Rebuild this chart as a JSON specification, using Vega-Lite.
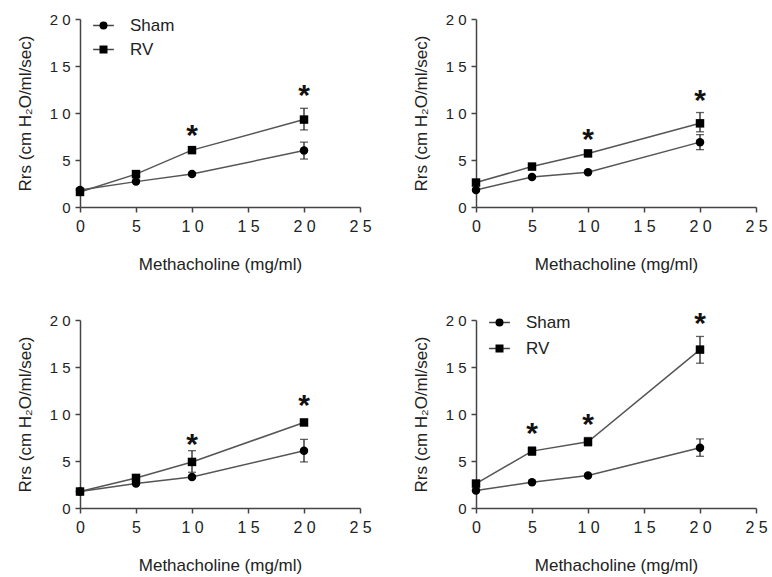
{
  "$schema": "https://vega.github.io/schema/vega-lite/v6.json",
  "usermeta": {"embedOptions": {"actions": false}},
  "padding": {"left": 16, "top": 12, "right": 0, "bottom": 4},
  "background": "white",
  "datasets": {
    "pts": [
      {"panel": 1, "group": "Sham", "dose": 0, "mean": 1.8, "lo": 1.8, "hi": 1.8},
      {"panel": 1, "group": "Sham", "dose": 5, "mean": 2.7, "lo": 2.7, "hi": 2.7},
      {"panel": 1, "group": "Sham", "dose": 10, "mean": 3.5, "lo": 3.5, "hi": 3.5},
      {"panel": 1, "group": "Sham", "dose": 20, "mean": 6.0, "lo": 5.1, "hi": 6.9},
      {"panel": 1, "group": "RV", "dose": 0, "mean": 1.6, "lo": 1.6, "hi": 1.6},
      {"panel": 1, "group": "RV", "dose": 5, "mean": 3.5, "lo": 3.5, "hi": 3.5},
      {"panel": 1, "group": "RV", "dose": 10, "mean": 6.05, "lo": 6.05, "hi": 6.05},
      {"panel": 1, "group": "RV", "dose": 20, "mean": 9.3, "lo": 8.2, "hi": 10.5},
      {"panel": 2, "group": "Sham", "dose": 0, "mean": 1.8, "lo": 1.8, "hi": 1.8},
      {"panel": 2, "group": "Sham", "dose": 5, "mean": 3.2, "lo": 3.2, "hi": 3.2},
      {"panel": 2, "group": "Sham", "dose": 10, "mean": 3.7, "lo": 3.7, "hi": 3.7},
      {"panel": 2, "group": "Sham", "dose": 20, "mean": 6.9, "lo": 6.1, "hi": 7.7},
      {"panel": 2, "group": "RV", "dose": 0, "mean": 2.6, "lo": 2.6, "hi": 2.6},
      {"panel": 2, "group": "RV", "dose": 5, "mean": 4.3, "lo": 4.3, "hi": 4.3},
      {"panel": 2, "group": "RV", "dose": 10, "mean": 5.7, "lo": 5.7, "hi": 5.7},
      {"panel": 2, "group": "RV", "dose": 20, "mean": 8.9, "lo": 8.0, "hi": 10.05},
      {"panel": 3, "group": "Sham", "dose": 0, "mean": 1.75, "lo": 1.75, "hi": 1.75},
      {"panel": 3, "group": "Sham", "dose": 5, "mean": 2.6, "lo": 2.6, "hi": 2.6},
      {"panel": 3, "group": "Sham", "dose": 10, "mean": 3.3, "lo": 3.3, "hi": 3.3},
      {"panel": 3, "group": "Sham", "dose": 20, "mean": 6.1, "lo": 4.9, "hi": 7.3},
      {"panel": 3, "group": "RV", "dose": 0, "mean": 1.75, "lo": 1.75, "hi": 1.75},
      {"panel": 3, "group": "RV", "dose": 5, "mean": 3.2, "lo": 3.2, "hi": 3.2},
      {"panel": 3, "group": "RV", "dose": 10, "mean": 4.9, "lo": 3.8, "hi": 6.1},
      {"panel": 3, "group": "RV", "dose": 20, "mean": 9.1, "lo": 9.1, "hi": 9.1},
      {"panel": 4, "group": "Sham", "dose": 0, "mean": 1.85, "lo": 1.85, "hi": 1.85},
      {"panel": 4, "group": "Sham", "dose": 5, "mean": 2.75, "lo": 2.75, "hi": 2.75},
      {"panel": 4, "group": "Sham", "dose": 10, "mean": 3.45, "lo": 3.45, "hi": 3.45},
      {"panel": 4, "group": "Sham", "dose": 20, "mean": 6.4, "lo": 5.5, "hi": 7.35},
      {"panel": 4, "group": "RV", "dose": 0, "mean": 2.6, "lo": 2.6, "hi": 2.6},
      {"panel": 4, "group": "RV", "dose": 5, "mean": 6.05, "lo": 5.6, "hi": 6.5},
      {"panel": 4, "group": "RV", "dose": 10, "mean": 7.05, "lo": 6.6, "hi": 7.5},
      {"panel": 4, "group": "RV", "dose": 20, "mean": 16.85, "lo": 15.4, "hi": 18.25}
    ],
    "stars": [
      {"panel": 1, "dose": 10, "y": 8.0},
      {"panel": 1, "dose": 20, "y": 12.2},
      {"panel": 2, "dose": 10, "y": 7.6},
      {"panel": 2, "dose": 20, "y": 11.75},
      {"panel": 3, "dose": 10, "y": 7.1},
      {"panel": 3, "dose": 20, "y": 11.25},
      {"panel": 4, "dose": 5, "y": 8.3},
      {"panel": 4, "dose": 10, "y": 9.3},
      {"panel": 4, "dose": 20, "y": 20.0}
    ]
  },
  "spacing": 37,
  "vconcat": [
    {
      "spacing": 40,
      "hconcat": [
        {
          "width": 280, "height": 188,
          "layer": [
            {"data": {"name": "pts"}, "transform": [{"filter": "datum.panel === 1"}],
             "mark": {"type": "line", "color": "#555", "strokeWidth": 1.5},
             "encoding": {
               "x": {"field": "dose", "type": "quantitative", "scale": {"domain": [0, 25], "nice": false, "zero": false, "padding": 0},
                     "axis": {"values": [0, 5, 10, 15, 20, 25], "title": "Methacholine (mg/ml)"}},
               "y": {"field": "mean", "type": "quantitative", "scale": {"domain": [0, 20], "nice": false, "zero": false, "padding": 0},
                     "axis": {"values": [0, 5, 10, 15, 20], "title": "Rrs (cm H₂O/ml/sec)"}},
               "detail": {"field": "group"}}},
            {"data": {"name": "pts"}, "transform": [{"filter": "datum.panel === 1 && datum.hi > datum.lo"}],
             "mark": {"type": "rule", "color": "#222", "strokeWidth": 1.3},
             "encoding": {"x": {"field": "dose", "type": "quantitative"}, "y": {"field": "lo", "type": "quantitative"}, "y2": {"field": "hi"}}},
            {"data": {"name": "pts"}, "transform": [{"filter": "datum.panel === 1 && datum.hi > datum.lo"}],
             "mark": {"type": "tick", "orient": "horizontal", "color": "#222", "size": 8, "thickness": 1.3},
             "encoding": {"x": {"field": "dose", "type": "quantitative"}, "y": {"field": "lo", "type": "quantitative"}}},
            {"data": {"name": "pts"}, "transform": [{"filter": "datum.panel === 1 && datum.hi > datum.lo"}],
             "mark": {"type": "tick", "orient": "horizontal", "color": "#222", "size": 8, "thickness": 1.3},
             "encoding": {"x": {"field": "dose", "type": "quantitative"}, "y": {"field": "hi", "type": "quantitative"}}},
            {"data": {"name": "pts"}, "transform": [{"filter": "false"}],
             "mark": {"type": "point", "filled": false, "opacity": 1, "size": 64, "color": "#444", "strokeWidth": 1.5},
             "encoding": {
               "x": {"field": "dose", "type": "quantitative"},
               "y": {"field": "mean", "type": "quantitative"},
               "shape": {"field": "group", "type": "nominal",
                 "scale": {"domain": ["Sham", "RV"], "range": ["M-2.6,0L2.6,0", "M-2.6,0L2.6,0"]},
                 "legend": {"orient": "none", "legendX": 15, "legendY": -2, "title": null,
                   "labelFontSize": 17, "labelOffset": 18, "symbolSize": 64, "rowPadding": 6,
                   "labelColor": "transparent", "labelFont": "Liberation Sans"}}}},
            {"data": {"name": "pts"}, "transform": [{"filter": "datum.panel === 1"}],
             "mark": {"type": "point", "filled": true, "opacity": 1, "size": 72, "color": "#000"},
             "encoding": {
               "x": {"field": "dose", "type": "quantitative"},
               "y": {"field": "mean", "type": "quantitative"},
               "shape": {"field": "group", "type": "nominal",
                 "scale": {"domain": ["Sham", "RV"], "range": ["circle", "square"]},
                 "legend": {"orient": "none", "legendX": 15, "legendY": -2, "title": null,
                   "labelFontSize": 17, "labelOffset": 18, "symbolSize": 64, "rowPadding": 6,
                   "labelColor": "#222", "labelFont": "Liberation Sans"}}}},
            {"data": {"name": "stars"}, "transform": [{"filter": "datum.panel === 1"}],
             "mark": {"type": "text", "text": "*", "fontSize": 30, "fontWeight": "bold", "font": "Liberation Sans", "color": "#111", "baseline": "middle", "dy": 4},
             "encoding": {"x": {"field": "dose", "type": "quantitative"}, "y": {"field": "y", "type": "quantitative"}}}
          ],
          "resolve": {"scale": {"shape": "independent"}, "legend": {"shape": "independent"}}
        },
        {
          "width": 280, "height": 188,
          "layer": [
            {"data": {"name": "pts"}, "transform": [{"filter": "datum.panel === 2"}],
             "mark": {"type": "line", "color": "#555", "strokeWidth": 1.5},
             "encoding": {
               "x": {"field": "dose", "type": "quantitative", "scale": {"domain": [0, 25], "nice": false, "zero": false, "padding": 0},
                     "axis": {"values": [0, 5, 10, 15, 20, 25], "title": "Methacholine (mg/ml)"}},
               "y": {"field": "mean", "type": "quantitative", "scale": {"domain": [0, 20], "nice": false, "zero": false, "padding": 0},
                     "axis": {"values": [0, 5, 10, 15, 20], "title": "Rrs (cm H₂O/ml/sec)"}},
               "detail": {"field": "group"}}},
            {"data": {"name": "pts"}, "transform": [{"filter": "datum.panel === 2 && datum.hi > datum.lo"}],
             "mark": {"type": "rule", "color": "#222", "strokeWidth": 1.3},
             "encoding": {"x": {"field": "dose", "type": "quantitative"}, "y": {"field": "lo", "type": "quantitative"}, "y2": {"field": "hi"}}},
            {"data": {"name": "pts"}, "transform": [{"filter": "datum.panel === 2 && datum.hi > datum.lo"}],
             "mark": {"type": "tick", "orient": "horizontal", "color": "#222", "size": 8, "thickness": 1.3},
             "encoding": {"x": {"field": "dose", "type": "quantitative"}, "y": {"field": "lo", "type": "quantitative"}}},
            {"data": {"name": "pts"}, "transform": [{"filter": "datum.panel === 2 && datum.hi > datum.lo"}],
             "mark": {"type": "tick", "orient": "horizontal", "color": "#222", "size": 8, "thickness": 1.3},
             "encoding": {"x": {"field": "dose", "type": "quantitative"}, "y": {"field": "hi", "type": "quantitative"}}},
            {"data": {"name": "pts"}, "transform": [{"filter": "datum.panel === 2"}],
             "mark": {"type": "point", "filled": true, "opacity": 1, "size": 72, "color": "#000"},
             "encoding": {
               "x": {"field": "dose", "type": "quantitative"},
               "y": {"field": "mean", "type": "quantitative"},
               "shape": {"field": "group", "type": "nominal",
                 "scale": {"domain": ["Sham", "RV"], "range": ["circle", "square"]}, "legend": null}}},
            {"data": {"name": "stars"}, "transform": [{"filter": "datum.panel === 2"}],
             "mark": {"type": "text", "text": "*", "fontSize": 30, "fontWeight": "bold", "font": "Liberation Sans", "color": "#111", "baseline": "middle", "dy": 4},
             "encoding": {"x": {"field": "dose", "type": "quantitative"}, "y": {"field": "y", "type": "quantitative"}}}
          ]
        }
      ],
      "resolve": {"scale": {"shape": "independent"}, "legend": {"shape": "independent"}}
    },
    {
      "spacing": 40,
      "hconcat": [
        {
          "width": 280, "height": 188,
          "layer": [
            {"data": {"name": "pts"}, "transform": [{"filter": "datum.panel === 3"}],
             "mark": {"type": "line", "color": "#555", "strokeWidth": 1.5},
             "encoding": {
               "x": {"field": "dose", "type": "quantitative", "scale": {"domain": [0, 25], "nice": false, "zero": false, "padding": 0},
                     "axis": {"values": [0, 5, 10, 15, 20, 25], "title": "Methacholine (mg/ml)"}},
               "y": {"field": "mean", "type": "quantitative", "scale": {"domain": [0, 20], "nice": false, "zero": false, "padding": 0},
                     "axis": {"values": [0, 5, 10, 15, 20], "title": "Rrs (cm H₂O/ml/sec)"}},
               "detail": {"field": "group"}}},
            {"data": {"name": "pts"}, "transform": [{"filter": "datum.panel === 3 && datum.hi > datum.lo"}],
             "mark": {"type": "rule", "color": "#222", "strokeWidth": 1.3},
             "encoding": {"x": {"field": "dose", "type": "quantitative"}, "y": {"field": "lo", "type": "quantitative"}, "y2": {"field": "hi"}}},
            {"data": {"name": "pts"}, "transform": [{"filter": "datum.panel === 3 && datum.hi > datum.lo"}],
             "mark": {"type": "tick", "orient": "horizontal", "color": "#222", "size": 8, "thickness": 1.3},
             "encoding": {"x": {"field": "dose", "type": "quantitative"}, "y": {"field": "lo", "type": "quantitative"}}},
            {"data": {"name": "pts"}, "transform": [{"filter": "datum.panel === 3 && datum.hi > datum.lo"}],
             "mark": {"type": "tick", "orient": "horizontal", "color": "#222", "size": 8, "thickness": 1.3},
             "encoding": {"x": {"field": "dose", "type": "quantitative"}, "y": {"field": "hi", "type": "quantitative"}}},
            {"data": {"name": "pts"}, "transform": [{"filter": "datum.panel === 3"}],
             "mark": {"type": "point", "filled": true, "opacity": 1, "size": 72, "color": "#000"},
             "encoding": {
               "x": {"field": "dose", "type": "quantitative"},
               "y": {"field": "mean", "type": "quantitative"},
               "shape": {"field": "group", "type": "nominal",
                 "scale": {"domain": ["Sham", "RV"], "range": ["circle", "square"]}, "legend": null}}},
            {"data": {"name": "stars"}, "transform": [{"filter": "datum.panel === 3"}],
             "mark": {"type": "text", "text": "*", "fontSize": 30, "fontWeight": "bold", "font": "Liberation Sans", "color": "#111", "baseline": "middle", "dy": 4},
             "encoding": {"x": {"field": "dose", "type": "quantitative"}, "y": {"field": "y", "type": "quantitative"}}}
          ]
        },
        {
          "width": 280, "height": 188,
          "layer": [
            {"data": {"name": "pts"}, "transform": [{"filter": "datum.panel === 4"}],
             "mark": {"type": "line", "color": "#555", "strokeWidth": 1.5},
             "encoding": {
               "x": {"field": "dose", "type": "quantitative", "scale": {"domain": [0, 25], "nice": false, "zero": false, "padding": 0},
                     "axis": {"values": [0, 5, 10, 15, 20, 25], "title": "Methacholine (mg/ml)"}},
               "y": {"field": "mean", "type": "quantitative", "scale": {"domain": [0, 20], "nice": false, "zero": false, "padding": 0},
                     "axis": {"values": [0, 5, 10, 15, 20], "title": "Rrs (cm H₂O/ml/sec)"}},
               "detail": {"field": "group"}}},
            {"data": {"name": "pts"}, "transform": [{"filter": "datum.panel === 4 && datum.hi > datum.lo"}],
             "mark": {"type": "rule", "color": "#222", "strokeWidth": 1.3},
             "encoding": {"x": {"field": "dose", "type": "quantitative"}, "y": {"field": "lo", "type": "quantitative"}, "y2": {"field": "hi"}}},
            {"data": {"name": "pts"}, "transform": [{"filter": "datum.panel === 4 && datum.hi > datum.lo"}],
             "mark": {"type": "tick", "orient": "horizontal", "color": "#222", "size": 8, "thickness": 1.3},
             "encoding": {"x": {"field": "dose", "type": "quantitative"}, "y": {"field": "lo", "type": "quantitative"}}},
            {"data": {"name": "pts"}, "transform": [{"filter": "datum.panel === 4 && datum.hi > datum.lo"}],
             "mark": {"type": "tick", "orient": "horizontal", "color": "#222", "size": 8, "thickness": 1.3},
             "encoding": {"x": {"field": "dose", "type": "quantitative"}, "y": {"field": "hi", "type": "quantitative"}}},
            {"data": {"name": "pts"}, "transform": [{"filter": "false"}],
             "mark": {"type": "point", "filled": false, "opacity": 1, "size": 64, "color": "#444", "strokeWidth": 1.5},
             "encoding": {
               "x": {"field": "dose", "type": "quantitative"},
               "y": {"field": "mean", "type": "quantitative"},
               "shape": {"field": "group", "type": "nominal",
                 "scale": {"domain": ["Sham", "RV"], "range": ["M-2.6,0L2.6,0", "M-2.6,0L2.6,0"]},
                 "legend": {"orient": "none", "legendX": 15, "legendY": -6, "title": null,
                   "labelFontSize": 17, "labelOffset": 18, "symbolSize": 64, "rowPadding": 8,
                   "labelColor": "transparent", "labelFont": "Liberation Sans"}}}},
            {"data": {"name": "pts"}, "transform": [{"filter": "datum.panel === 4"}],
             "mark": {"type": "point", "filled": true, "opacity": 1, "size": 72, "color": "#000"},
             "encoding": {
               "x": {"field": "dose", "type": "quantitative"},
               "y": {"field": "mean", "type": "quantitative"},
               "shape": {"field": "group", "type": "nominal",
                 "scale": {"domain": ["Sham", "RV"], "range": ["circle", "square"]},
                 "legend": {"orient": "none", "legendX": 15, "legendY": -6, "title": null,
                   "labelFontSize": 17, "labelOffset": 18, "symbolSize": 64, "rowPadding": 8,
                   "labelColor": "#222", "labelFont": "Liberation Sans"}}}},
            {"data": {"name": "stars"}, "transform": [{"filter": "datum.panel === 4"}],
             "mark": {"type": "text", "text": "*", "fontSize": 30, "fontWeight": "bold", "font": "Liberation Sans", "color": "#111", "baseline": "middle", "dy": 4},
             "encoding": {"x": {"field": "dose", "type": "quantitative"}, "y": {"field": "y", "type": "quantitative"}}}
          ],
          "resolve": {"scale": {"shape": "independent"}, "legend": {"shape": "independent"}}
        }
      ],
      "resolve": {"scale": {"shape": "independent"}, "legend": {"shape": "independent"}}
    }
  ],
  "resolve": {"scale": {"shape": "independent"}, "legend": {"shape": "independent"}},
  "config": {
    "view": {"stroke": null},
    "font": "Liberation Sans",
    "scale": {"continuousPadding": 0},
    "axis": {
      "grid": false,
      "domainColor": "#444", "domainWidth": 1.5,
      "tickColor": "#444", "tickWidth": 1.5, "tickSize": 5,
      "labelFont": "Liberation Sans", "labelFontSize": 15, "labelColor": "#222",
      "labelFlush": false, "labelOverlap": false,
      "labelExpr": "length(datum.label) > 1 ? substring(datum.label, 0, 1) + ' ' + substring(datum.label, 1) : datum.label",
      "titleFont": "Liberation Sans", "titleFontSize": 17, "titleFontWeight": "normal", "titleColor": "#222"
    },
    "axisX": {"labelFontSize": 16, "labelPadding": 6, "titlePadding": 22, "labelFlush": false},
    "axisY": {"labelPadding": 5, "titlePadding": 15}
  }
}
